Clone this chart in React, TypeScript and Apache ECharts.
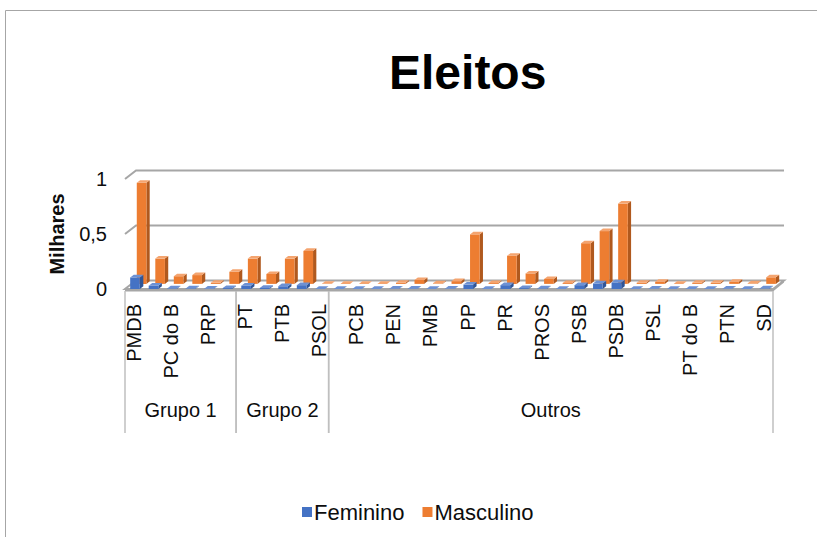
import React, { useEffect, useRef } from "react";
import * as echarts from "echarts";

const categories = [
  "PMDB", "DEM", "PC do B", "PSC", "PRP", "PPS",
  "PT", "PV", "PTB", "PDT", "PSOL",
  "NOVO", "PCB", "PCO", "PEN", "PHS", "PMB", "PMN", "PP", "PPL", "PR", "PRB",
  "PROS", "PRTB", "PSB", "PSD", "PSDB", "PSDC", "PSL", "PSTU", "PT do B", "PTC",
  "PTN", "REDE", "SD",
];
const feminino = [
  0.105, 0.03, 0.005, 0.005, 0.002, 0.008,
  0.03, 0.01, 0.025, 0.035, 0,
  0, 0, 0, 0.002, 0.003, 0.001, 0.002, 0.04, 0.001, 0.035, 0.008,
  0.005, 0.001, 0.035, 0.05, 0.06, 0.001, 0.002, 0, 0.001, 0.001,
  0.002, 0.001, 0.004,
];
const masculino = [
  0.92, 0.23, 0.07, 0.08, 0.01, 0.11,
  0.23, 0.09, 0.23, 0.3, 0.002,
  0, 0, 0, 0.01, 0.035, 0.005, 0.025, 0.45, 0.008, 0.255, 0.095,
  0.045, 0.008, 0.37, 0.48, 0.73, 0.01, 0.02, 0, 0.01, 0.01,
  0.02, 0.005, 0.06,
];
const groupNames = ["Grupo 1", "Grupo 2", "Outros"];
const groupStart = [0, 6, 11];
const groupEnd = [5, 10, 34];
const yTicks = [0, 0.5, 1];

const FONT = "'Liberation Sans', Arial, sans-serif";
const TEXT = "#0d0d0d";
const GRAY = "#a6a6a6";
const DX = 11;
const DY = -8.5;

function barRenderer(front: number, back: number, colors: { front: string; side: string; top: string }) {
  return (params: any, api: any) => {
    const idx = api.value(0);
    const val = api.value(1);
    const bw = api.size([1, 0])[0];
    const topPt = api.coord([idx, val]);
    const basePt = api.coord([idx, 0]);
    const c = basePt[0];
    const fx = front * DX;
    const fy = front * DY;
    const ddx = (back - front) * DX;
    const ddy = (back - front) * DY;
    const w = bw * 0.52;
    const xl = c - bw * 0.22 + fx;
    const xr = xl + w;
    const yb = basePt[1] + fy;
    const yt = topPt[1] + fy;
    return {
      type: "group",
      children: [
        {
          type: "polygon",
          shape: { points: [[xr, yb], [xr, yt], [xr + ddx, yt + ddy], [xr + ddx, yb + ddy]] },
          style: { fill: colors.side },
        },
        {
          type: "rect",
          shape: { x: xl, y: yt, width: w, height: Math.max(0, yb - yt) },
          style: { fill: colors.front },
        },
        {
          type: "polygon",
          shape: { points: [[xl, yt], [xr, yt], [xr + ddx, yt + ddy], [xl + ddx, yt + ddy]] },
          style: { fill: colors.top },
        },
      ],
    };
  };
}

export default function App() {
  const ref = useRef<HTMLDivElement>(null);
  useEffect(() => {
    if (!ref.current) return;
    const chart = echarts.init(ref.current, undefined, { renderer: "svg" });
    const n = categories.length;
    const option: any = {
      animation: false,
      backgroundColor: "#ffffff",
      title: {
        text: "Eleitos",
        left: 389,
        top: 48,
        padding: 0,
        textStyle: { fontSize: 48, fontWeight: "bold", color: "#000", fontFamily: FONT },
      },
      graphic: [
        {
          type: "rect",
          z: -10,
          shape: { x: 5.5, y: 10.5, width: 1000, height: 1000 },
          style: { fill: "none", stroke: GRAY, lineWidth: 1 },
        },
      ],
      legend: {
        data: ["Feminino", "Masculino"],
        left: 297,
        top: 496,
        icon: "rect",
        itemWidth: 10,
        itemHeight: 10,
        itemGap: 18,
        textStyle: { fontSize: 22, color: TEXT, fontFamily: FONT, padding: [0, 0, 0, -3] },
      },
      grid: { left: 125, right: 44, top: 179, bottom: 248 },
      xAxis: {
        type: "category",
        data: categories,
        axisLine: { show: false },
        axisTick: { show: false },
        splitLine: { show: false },
        axisLabel: {
          interval: 1,
          rotate: 90,
          fontSize: 20,
          margin: 15,
          color: TEXT,
          fontFamily: FONT,
        },
      },
      yAxis: {
        type: "value",
        min: 0,
        max: 1,
        interval: 0.5,
        axisLine: { show: false },
        axisTick: { show: false },
        splitLine: { show: false },
        axisLabel: {
          formatter: (v: number) => String(v).replace(".", ","),
          margin: 18,
          fontSize: 20,
          color: TEXT,
          fontFamily: FONT,
          padding: [5, 0, 0, 0],
        },
        name: "Milhares",
        nameLocation: "middle",
        nameGap: 58,
        nameRotate: 90,
        nameTextStyle: { fontSize: 20, fontWeight: "bold", color: TEXT, fontFamily: FONT },
      },
      series: [
        {
          type: "custom",
          name: "walls",
          silent: true,
          clip: false,
          z: 1,
          data: yTicks.map((v) => [0, v]),
          renderItem: (params: any, api: any) => {
            const v = api.value(1);
            const bw = api.size([1, 0])[0];
            const p = api.coord([0, v]);
            const L = p[0] - bw / 2;
            const R = api.coord([n - 1, v])[0] + bw / 2;
            const y = p[1];
            if (v === 0) {
              return {
                type: "group",
                children: [
                  {
                    type: "polygon",
                    shape: { points: [[L, y], [R, y], [R + DX, y + DY], [L + DX, y + DY]] },
                    style: { fill: "#ffffff", stroke: GRAY, lineWidth: 2 },
                  },
                  {
                    type: "polygon",
                    shape: { points: [[L, y], [R, y], [R + DX, y + DY], [R + DX, y + DY + 2], [R, y + 2.5], [L, y + 2.5]] },
                    style: { fill: GRAY },
                  },
                ],
              };
            }
            return {
              type: "polyline",
              shape: { points: [[L, y], [L + DX, y + DY], [R + DX, y + DY]] },
              style: { fill: "none", stroke: GRAY, lineWidth: 2 },
            };
          },
        },
        {
          type: "custom",
          name: "Masculino",
          clip: false,
          z: 2,
          itemStyle: { color: "#ED7D31" },
          data: masculino.map((v, i) => [i, v]),
          renderItem: barRenderer(0.6, 0.9, { front: "#ED7D31", side: "#B0591E", top: "#F4A46F" }),
        },
        {
          type: "custom",
          name: "Feminino",
          clip: false,
          z: 3,
          itemStyle: { color: "#4472C4" },
          data: feminino.map((v, i) => [i, v]),
          renderItem: barRenderer(0, 0.32, { front: "#4472C4", side: "#2F5597", top: "#6C91D4" }),
        },
        {
          type: "custom",
          name: "groups",
          silent: true,
          clip: false,
          z: 1,
          data: groupStart.map((s, i) => [s, groupEnd[i], 0]),
          encode: { x: [0, 1], y: 2 },
          renderItem: (params: any, api: any) => {
            const s = api.value(0);
            const e = api.value(1);
            const bw = api.size([1, 0])[0];
            const base = api.coord([s, 0]);
            const L = base[0] - bw / 2;
            const R = api.coord([e, 0])[0] + bw / 2;
            const y0 = base[1] + 2;
            const children: any[] = [
              { type: "line", shape: { x1: L, y1: y0, x2: L, y2: y0 + 142 }, style: { stroke: "#bfbfbf", lineWidth: 1.5 } },
              { type: "line", shape: { x1: R, y1: y0, x2: R, y2: y0 + 142 }, style: { stroke: "#bfbfbf", lineWidth: 1.5 } },
              {
                type: "text",
                x: (L + R) / 2,
                y: y0 + 119,
                style: {
                  text: groupNames[params.dataIndex],
                  fill: TEXT,
                  font: `20px ${FONT}`,
                  align: "center",
                  verticalAlign: "middle",
                },
              },
            ];
            return { type: "group", children };
          },
        },
      ],
    };
    chart.setOption(option);
    return () => chart.dispose();
  }, []);
  return (
    <div
      ref={ref}
      style={{ position: "fixed", left: 0, top: 0, width: 817, height: 537 }}
    />
  );
}
